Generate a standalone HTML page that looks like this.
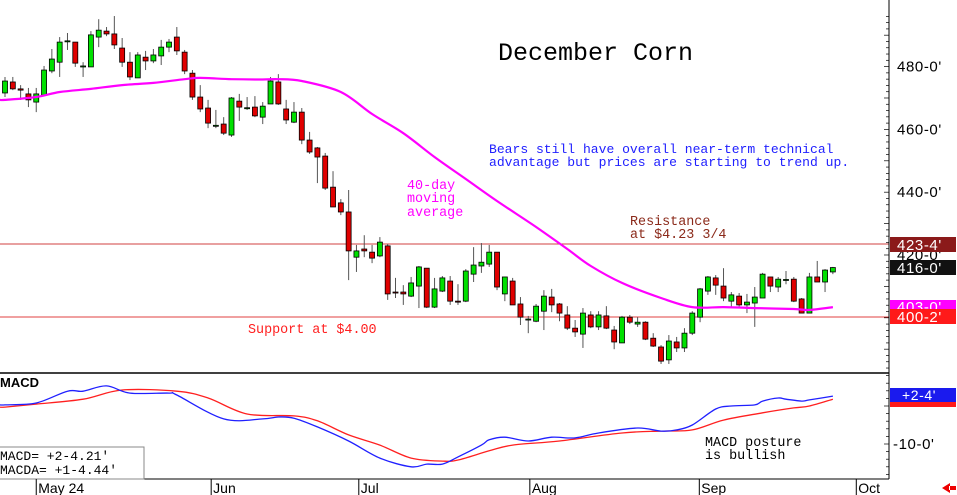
<!DOCTYPE html>
<html><head><meta charset="utf-8">
<style>
body{margin:0;background:#fff;}
#wrap{position:relative;width:957px;height:495px;overflow:hidden;font-family:"Liberation Mono",monospace;}
svg{position:absolute;left:0;top:0;}
.t{font-family:"Liberation Mono",monospace;}
</style></head>
<body>
<div id="wrap">
<svg id="svg" width="957" height="495">
  <rect x="0" y="0" width="957" height="495" fill="#fff"/>
  <line x1="0" y1="244" x2="889" y2="244" stroke="#d04040" stroke-width="1"/>
  <line x1="0" y1="317" x2="889" y2="317" stroke="#e04040" stroke-width="1"/>
  <g id="candles"></g>
  <path id="ma" fill="none" stroke="#ff00ff" stroke-width="2.2"/>
  <line x1="0" y1="373" x2="889" y2="373" stroke="#000" stroke-width="1.5"/>
  <line x1="889" y1="0" x2="889" y2="479" stroke="#000" stroke-width="1"/>
  <line x1="0" y1="479" x2="889" y2="479" stroke="#000" stroke-width="1"/>
  <g id="yticks"></g>
  <path id="macdA" fill="none" stroke="#ff2020" stroke-width="1.3"/>
  <path id="macd" fill="none" stroke="#2020ff" stroke-width="1.3"/>

  <text x="498" y="60" class="t" font-size="25" fill="#000">December Corn</text>
  <text x="489" y="153" class="t" font-size="13.05" fill="#2020ff">Bears still have overall near-term technical</text>
  <text x="489" y="166" class="t" font-size="13.05" fill="#2020ff">advantage but prices are starting to trend up.</text>
  <g fill="#ff00ff" font-size="13.4" class="t">
    <text x="407" y="189">40-day</text><text x="407" y="202">moving</text><text x="407" y="216">average</text>
  </g>
  <g fill="#8b2a1a" font-size="13.4" class="t">
    <text x="630" y="225">Resistance</text><text x="630" y="238">at $4.23 3/4</text>
  </g>
  <text x="248" y="333" class="t" font-size="13.4" fill="#ff2020">Support at $4.00</text>
  <g fill="#000" font-size="13.4" class="t">
    <text x="705" y="446">MACD posture</text><text x="705" y="459">is bullish</text>
  </g>
  <text x="0" y="387" font-family="Liberation Sans,sans-serif" font-weight="bold" font-size="13" fill="#000">MACD</text>
  <rect x="-1" y="447" width="145" height="32" fill="#fff" stroke="#888"/>
  <text x="0" y="460" class="t" font-size="13" fill="#000">MACD=  +2-4.21'</text>
  <text x="0" y="474" class="t" font-size="13" fill="#000">MACDA= +1-4.44'</text>

  <g id="xlabels"></g>
  <g id="ylabels" font-family="Liberation Sans,sans-serif" font-size="15" letter-spacing="0.6"></g>

  <rect x="890" y="237" width="66" height="15" fill="#8b1a1a"/>
  <text x="897" y="250" font-family="Liberation Sans,sans-serif" font-size="15" letter-spacing="0.6" fill="#fff">423-4'</text>
  <rect x="890" y="260" width="66" height="15" fill="#111"/>
  <text x="897" y="273" font-family="Liberation Sans,sans-serif" font-size="15" letter-spacing="0.6" fill="#fff">416-0'</text>
  <rect x="890" y="300" width="66" height="10" fill="#ff00ff"/>
  <text x="897" y="312" font-family="Liberation Sans,sans-serif" font-size="15" letter-spacing="0.6" fill="#fff">403-0'</text>
  <rect x="890" y="309" width="66" height="15" fill="#ff1a1a"/>
  <text x="897" y="322" font-family="Liberation Sans,sans-serif" font-size="15" letter-spacing="0.6" fill="#fff">400-2'</text>
  <rect x="890" y="402" width="66" height="5" fill="#ff1a1a"/>
  <rect x="890" y="388" width="66" height="14" fill="#1a1aee"/>
  <text x="902" y="400" font-family="Liberation Sans,sans-serif" font-size="14" letter-spacing="0.6" fill="#fff">+2-4'</text>
  <text x="893" y="449" font-family="Liberation Sans,sans-serif" font-size="15" letter-spacing="0.6" fill="#000">-10-0'</text>
  <path d="M950 483 L942 488 L950 493 Z M949 486 h7 v4 h-7z" fill="#ee0000"/>
</svg>
</div>
<script>
const opens  =[471.6,475.1,472.9,471.3,468.7,470.9,478.6,481.4,488.0,487.8,480.2,479.9,489.4,491.3,490.4,485.9,481.4,476.4,483.0,481.8,483.4,486.2,489.4,484.6,477.9,470.3,466.8,461.0,461.7,458.2,469.0,466.8,467.1,463.9,468.1,475.1,466.5,462.3,465.5,456.6,454.1,451.5,441.6,436.6,433.7,419.3,421.9,420.9,419.7,422.9,408.2,408.2,406.9,410.1,415.8,403.4,408.5,411.7,405.3,405.3,413.9,416.5,417.1,420.9,407.6,411.7,404.4,399.3,398.9,402.1,406.6,404.4,400.9,396.7,394.8,400.9,397.1,400.6,396.1,392.0,400.2,398.0,398.6,393.5,390.7,386.6,392.3,390.4,395.1,400.2,408.5,412.7,410.1,405.3,406.9,404.1,404.7,406.3,413.0,409.8,412.0,412.3,406.0,401.5,413.0,411.4,414.6];
const closes =[475.4,472.9,472.5,469.4,471.3,478.9,482.4,487.8,488.2,481.1,480.2,490.1,491.6,490.4,486.9,481.4,476.7,483.7,481.8,483.7,486.2,487.8,485.0,478.6,470.3,466.5,462.0,461.3,458.8,470.0,467.1,466.9,464.3,467.4,475.4,468.1,463.0,465.5,456.6,452.8,451.2,441.3,435.3,433.7,421.3,421.3,421.3,419.0,424.1,407.6,407.9,407.6,411.1,416.2,403.4,409.2,412.7,405.3,405.0,414.9,416.8,417.7,420.9,409.8,413.0,404.1,400.2,399.6,403.7,406.9,404.1,401.5,396.7,395.5,401.5,397.1,400.9,396.7,392.3,400.2,398.6,398.6,393.2,391.0,386.2,392.6,390.4,395.1,401.5,409.2,413.0,410.4,406.3,407.3,404.1,405.0,406.6,413.9,410.1,412.3,412.2,405.3,401.5,413.0,411.4,415.2,416.0];
const highs  =[476.7,476.7,474.1,473.2,473.2,480.2,485.6,489.4,490.7,487.8,481.4,491.3,495.1,492.6,496.1,489.1,484.6,484.6,485.0,485.6,488.5,488.8,492.6,485.3,478.9,474.1,469.4,466.2,463.9,470.3,471.3,470.3,470.6,468.7,476.7,477.6,469.4,468.7,466.8,459.2,454.4,452.5,446.7,437.8,440.7,423.2,426.3,423.2,425.7,423.5,412.7,410.4,413.0,416.5,415.8,412.7,413.3,413.3,410.7,415.5,422.5,423.8,423.2,420.9,413.0,412.7,406.6,400.6,404.4,408.8,409.2,404.7,403.7,399.3,403.1,402.1,402.1,403.7,397.4,400.6,400.9,400.2,398.9,395.1,391.3,394.5,393.9,396.7,402.1,409.5,413.3,413.6,415.8,408.2,407.9,407.6,409.8,414.3,413.0,413.0,414.9,413.0,406.3,414.3,418.1,415.5,416.2];
const lows   =[470.3,472.5,469.4,467.1,465.5,470.9,477.9,476.7,485.3,479.9,476.7,479.9,486.2,489.7,485.6,479.9,475.7,476.4,478.9,481.1,480.5,484.6,483.7,477.6,469.4,465.5,460.4,460.4,458.2,457.6,462.7,466.2,463.9,461.7,468.1,467.8,461.7,462.0,455.3,452.2,442.9,440.7,435.3,432.7,412.0,414.6,419.3,417.4,419.3,405.7,406.3,404.1,406.6,403.1,403.1,403.1,408.2,404.1,404.1,405.0,411.4,414.3,416.2,408.8,405.3,404.1,397.7,395.1,398.6,396.1,401.8,398.9,396.1,393.9,390.4,396.7,396.1,396.4,390.0,392.0,398.0,397.1,392.9,390.7,385.3,385.3,389.1,389.1,394.5,398.6,407.3,407.3,405.3,403.4,403.4,401.5,397.1,406.3,408.2,408.2,410.7,405.0,401.5,401.5,411.4,408.2,413.9];
const maIdx  =[0,4,7,11,15,19,23,25,29,33,35,38,43,47,51,55,59,63,68,72,75,79,84,88,92,96,101,103,106];
const maVals =[469.4,470.3,471.9,472.9,474.1,474.8,476.0,476.4,476.0,475.9,476.0,475.4,471.9,464.9,458.8,451.2,444.2,437.2,428.9,421.9,416.5,411.1,406.3,403.4,403.4,403.1,402.8,402.5,403.4];
const macdIdx =[0,4,8,10,13,16,21,22,28,33,35,37,40,44,48,52,54,56,58,61,62,64,67,70,73,76,81,84,86,88,91,93,96,97,99,100,102,103,106];
const macdVals=[0.3,0.8,3.9,3.9,5.3,3.4,3.4,2.9,-3.4,-3.4,-2.9,-3.2,-5.5,-9.2,-13.7,-16,-15.3,-15.3,-13.4,-10.3,-8.9,-8.2,-9.2,-8.2,-8.4,-7.1,-5.8,-6.6,-6.3,-5.0,-0.8,0,0.3,1.3,2.1,1.8,1.3,1.6,2.6];
const macdaIdx =[0,4,10,15,22,26,31,37,40,44,48,52,56,58,62,65,71,79,84,88,92,97,101,103,106];
const macdaVals=[-0.3,0.5,1.8,4.2,3.9,2.1,-2.1,-2.6,-3.9,-7.6,-10.3,-13.7,-14.5,-14.2,-11.8,-10.3,-9.2,-7.1,-6.6,-6.3,-3.7,-1.8,-0.5,0,1.8];
const yTickVals=[480,460,440,420];
const yTickLabels=["480-0'","460-0'","440-0'","420-0'"];
const monthLabels=["May 24","Jun","Jul","Aug","Sep","Oct"];
const monthIdx=[4,26.4,45.3,67.2,88.9,109];

const NS="http://www.w3.org/2000/svg";
const xOf=i=>5+i*7.81;
const yP=p=>244-(p-423.5)*3.14;
const yM=v=>406-v*3.8;
function mk(tag,attrs,parent){const e=document.createElementNS(NS,tag);for(const k in attrs)e.setAttribute(k,attrs[k]);parent.appendChild(e);return e;}

const cg=document.getElementById('candles');
for(let i=0;i<opens.length;i++){
  const x=xOf(i),o=opens[i],c=closes[i];
  const w=mk('line',{x1:x,x2:x,y1:yP(highs[i]),y2:yP(lows[i]),stroke:'#555','stroke-width':1},cg);
  
  
  const top=yP(Math.max(o,c)),bot=yP(Math.min(o,c));
  const b=mk('rect',{x:x-2.5,y:top,width:5,height:Math.max(1,bot-top),fill:c>=o?'#00e000':'#e00000',stroke:'#000','stroke-width':0.8},cg);
  
  
}
function smoothPath(idx,vals,yf){
  const pts=[[0,yf(vals[0])]].concat(idx.map((ix,k)=>[xOf(ix),yf(vals[k])]));
  let d='M'+pts[0][0].toFixed(1)+' '+pts[0][1].toFixed(1);
  for(let k=0;k<pts.length-1;k++){
    const p0=pts[Math.max(0,k-1)],p1=pts[k],p2=pts[k+1],p3=pts[Math.min(pts.length-1,k+2)];
    const c1x=p1[0]+(p2[0]-p0[0])/6,c1y=p1[1]+(p2[1]-p0[1])/6;
    const c2x=p2[0]-(p3[0]-p1[0])/6,c2y=p2[1]-(p3[1]-p1[1])/6;
    d+=' C'+c1x.toFixed(1)+' '+c1y.toFixed(1)+' '+c2x.toFixed(1)+' '+c2y.toFixed(1)+' '+p2[0].toFixed(1)+' '+p2[1].toFixed(1);
  }
  return d;
}
document.getElementById('ma').setAttribute('d',smoothPath(maIdx,maVals,yP));
document.getElementById('macd').setAttribute('d',smoothPath(macdIdx,macdVals,yM));
document.getElementById('macdA').setAttribute('d',smoothPath(macdaIdx,macdaVals,yM));

const yl=document.getElementById('ylabels');
yTickVals.forEach((v,k)=>{
  const t=mk('text',{x:897,y:yP(v)+5,fill:'#000'},yl);
  t.textContent=yTickLabels[k];
  
  
});
const yt=document.getElementById('yticks');
for(let p=362;p<=496;p+=2){
  const y=yP(p); if(y<0||y>372) continue;
  const l=mk('line',{x1:p%10===0?884:886,x2:889,y1:y,y2:y,stroke:'#000','stroke-width':0.7},yt);
  
  
}
for(let v=-18;v<=8;v+=2){
  const y=yM(v); if(y<374||y>478) continue;
  const l=mk('line',{x1:v%10===0?884:886,x2:889,y1:y,y2:y,stroke:'#000','stroke-width':0.7},yt);
  
  
}
const xl=document.getElementById('xlabels');
monthLabels.forEach((m,k)=>{
  const x=xOf(monthIdx[k]);
  const l=mk('line',{x1:x,x2:x,y1:479,y2:495,stroke:'#000','stroke-width':1},xl);
  
  
  const t=mk('text',{x:x+2,y:493,'font-family':'Liberation Sans,sans-serif','font-size':14,fill:'#000'},xl);
  t.textContent=m;
  
  
});
</script>
</body></html>
